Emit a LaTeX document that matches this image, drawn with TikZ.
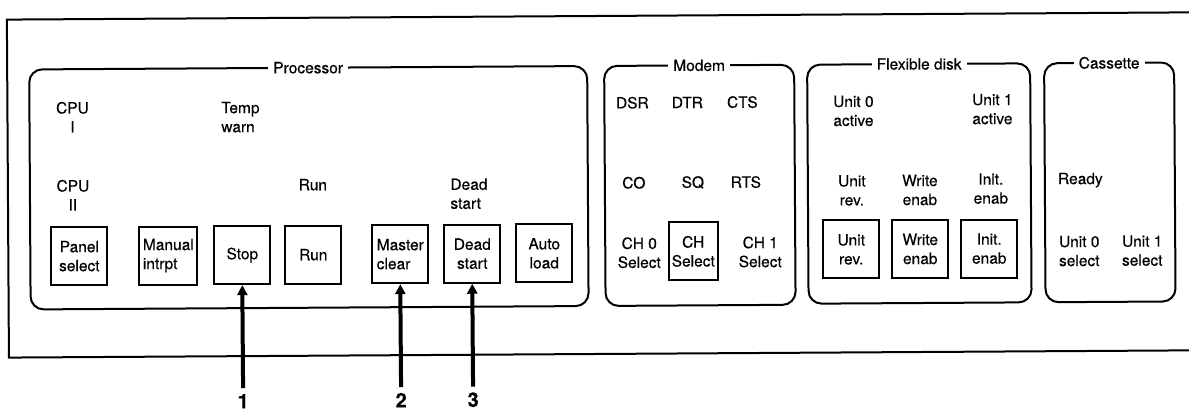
\documentclass[tikz,border=0pt]{standalone}
\usepackage{fontspec}
\setmainfont{TeX Gyre Heros}[FakeBold=0.35]
\usetikzlibrary{arrows.meta}
\begin{document}
\begin{tikzpicture}[x=1pt,y=-1pt,
  txt/.style={font=\fontsize{15.5}{19}\selectfont},
  lbl/.style={txt, align=center, inner sep=0pt},
  lbll/.style={txt, align=left, inner sep=0pt},
  btn/.style={draw, line width=2pt, minimum width=56pt, minimum height=58pt, inner sep=0pt, align=center, txt},
  panel/.style={draw, line width=2pt, rounded corners=13pt},
  ttl/.style={fill=white, inner xsep=5pt, inner ysep=1pt, txt},
  ptr/.style={line width=4pt, -{Triangle[width=10pt,length=10pt]}},
  num/.style={font=\fontsize{20}{20}\selectfont\bfseries, inner sep=0pt}]
\useasboundingbox (0,0) rectangle (1189,413);
\begin{scope}[rotate around={0.35:(594.5,206.5)}]
% outer frame
\draw[line width=2pt] (1210,16) -- (8,16) -- (8,354) -- (1210,354);
% panels
\draw[panel] (30,66) rectangle (588,306);
\draw[panel] (605,66) rectangle (795,306);
\draw[panel] (808,66) rectangle (1031,305);
\draw[panel] (1045,66) rectangle (1175,305);
\node[ttl] (tproc) at (309,66) {Processor};
\node[ttl] (tmodem) at (700,66) {Modem};
\node[ttl] (tflex) at (920,66) {Flexible disk};
\node[ttl] (tcass) at (1110,66) {Cassette};
% processor labels
\node[lbl] (cpu1) at (73,114) {CPU\\I};
\node[lbll] (temp) at (241,115) {Temp\\warn};
\node[lbl] (cpu2) at (73,192) {CPU\\II};
\node[lbl] (runl) at (313,183) {Run};
\node[lbll] (deadl) at (469,193) {Dead\\start};
% processor buttons
\node[btn] (panelsel) at (79,253) {Panel\\select};
\node[btn, minimum width=58pt, align=left] (manual) at (168,253) {Manual\\intrpt};
\node[btn] (stop) at (242,253) {Stop};
\node[btn] (run) at (313,253) {Run};
\node[btn, align=left] (master) at (400,253) {Master\\clear};
\node[btn] (dead) at (472,253) {Dead\\start};
\node[btn] (auto) at (544,253) {Auto\\load};
% modem
\node[lbl] (dsr) at (633,103) {DSR};
\node[lbl] (dtr) at (688,103) {DTR};
\node[lbl] (cts) at (743,103) {CTS};
\node[lbl] (co) at (634,183) {CO};
\node[lbl] (sq) at (693,183) {SQ};
\node[lbl] (rts) at (746,183) {RTS};
\node[lbl] (ch0) at (639,253) {CH 0\\Select};
\node[btn, minimum width=49pt] (chsel) at (693,252) {CH\\Select};
\node[lbl] (ch1) at (760,253) {CH 1\\Select};
% flexible disk
\node[lbl] (u0a) at (854,112.5) {Unit 0\\active};
\node[lbl] (u1a) at (993,111.5) {Unit 1\\active};
\node[lbl] (urevl) at (852,192) {Unit\\rev.};
\node[lbl] (wenl) at (920,192) {Write\\enab};
\node[lbl] (ienl) at (991,191) {Init.\\enab};
\node[btn] (urev) at (851,251) {Unit\\rev.};
\node[btn] (wen) at (920,251) {Write\\enab};
\node[btn] (ien) at (989,251) {Init.\\enab};
% cassette
\node[lbl, anchor=west] (ready) at (1058,183) {Ready};
\node[lbl] (u0s) at (1079,254) {Unit 0\\select};
\node[lbl] (u1s) at (1142,254) {Unit 1\\select};
% pointers
\coordinate (p1) at (242,386);
\coordinate (p2) at (400,386);
\coordinate (p3) at (472,386);
\draw[ptr] (p1) -- (stop.south);
\draw[ptr] (p2) -- (master.south);
\draw[ptr] (p3) -- (dead.south);
\node[num] (n1) at (242,399) {1};
\node[num] (n2) at (400,399) {2};
\node[num] (n3) at (472,399) {3};
\end{scope}
\end{tikzpicture}
\end{document}
